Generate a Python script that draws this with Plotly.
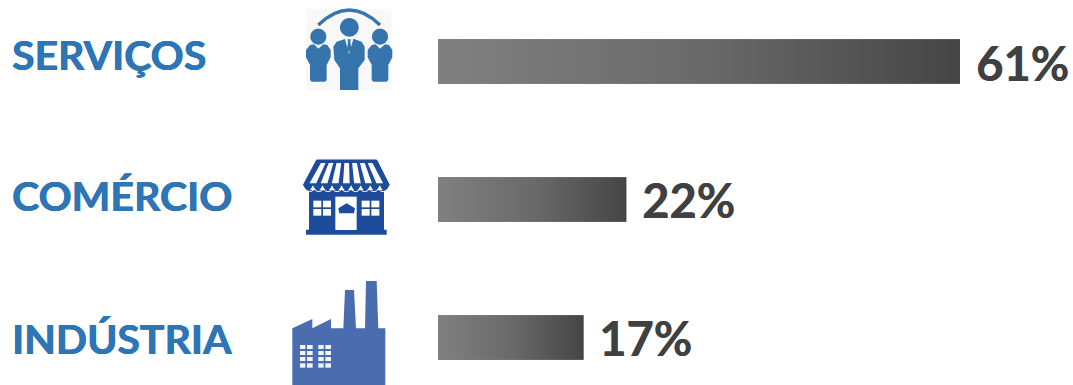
import math
import re
import plotly.graph_objects as go

categories = ["SERVIÇOS", "COMÉRCIO", "INDÚSTRIA"]
values = [61, 22, 17]

W, H = 1073, 385
PX_PER_UNIT = 522 / 61
X0 = 438
xrange_ = [-X0 / PX_PER_UNIT, (W - X0) / PX_PER_UNIT]
yrange_ = [(H - 61.5) / 138, -61.5 / 138]
BAR_H = 44.5 / 138

BLUE = "#2E75B6"
DARK = "#404040"
PEOPLE = "#3674AE"
STORE = "#1D4C9B"
FACTORY = "#4A6DB0"

fig = go.Figure()

fig.add_trace(go.Bar(x=values, y=list(range(3)), orientation="h", width=BAR_H,
                     marker=dict(color="#636363", line_width=0),
                     hoverinfo="skip", showlegend=False))

for i, v in enumerate(values):
    fig.add_trace(go.Scatter(
        x=[0, v, v, 0, 0],
        y=[i - BAR_H / 2, i - BAR_H / 2, i + BAR_H / 2, i + BAR_H / 2, i - BAR_H / 2],
        mode="lines", line=dict(width=0), fill="toself",
        fillgradient=dict(type="horizontal",
                          colorscale=[[0, "#808080"], [0.5, "#6a6a6a"], [1, "#454545"]]),
        hoverinfo="skip", showlegend=False))

annotations = []
label_y = [54.5, 195.5, 338.5]
value_shift = [-1, 0, 0]
for i, (c, v) in enumerate(zip(categories, values)):
    annotations.append(dict(xref="paper", yref="paper", x=9.5 / W, y=1 - label_y[i] / H,
                            xanchor="left", yanchor="middle", text=f"<b>{c}</b>", showarrow=False,
                            font=dict(family="Lato", size=41, color=BLUE,
                                      shadow=f"0.5px 0 0 {BLUE}, -0.3px 0 0 {BLUE}")))
    annotations.append(dict(xref="x", yref="y", x=v, y=i, xanchor="left", yanchor="middle",
                            xshift=14, yshift=value_shift[i], text=f"<b>{v}%</b>", showarrow=False,
                            font=dict(family="Lato", size=47, color=DARK,
                                      shadow=f"0.5px 0 0 {DARK}")))

shapes = []


def to_paper(path, ox, oy, s=1 / 3):
    def rep(m):
        x = ox + float(m.group(1)) * s
        y = oy + float(m.group(2)) * s
        return f"{x / W:.5f},{1 - y / H:.5f}"
    return re.sub(r"(-?[\d.]+),(-?[\d.]+)", rep, path)


def add(path, ox, oy, fill=None, line=None, lw=0):
    shapes.append(dict(type="path", xref="paper", yref="paper", path=to_paper(path, ox, oy),
                       fillcolor=fill or "rgba(0,0,0,0)",
                       line=dict(color=line or "rgba(0,0,0,0)", width=lw), layer="above"))


def poly(pts):
    return "M" + " L".join(f"{x},{y}" for x, y in pts) + " Z"


def circle(cx, cy, r):
    return poly([(round(cx + r * math.cos(a / 16 * math.pi), 2),
                  round(cy + r * math.sin(a / 16 * math.pi), 2)) for a in range(32)])


# Icon 1: people
ox, oy = 290, 0
add(poly([(48, 27), (305, 27), (305, 270), (48, 270)]), ox, oy, fill="#F8F8F8")
add("M85,75 Q178,-15 270,75", ox, oy, line=PEOPLE, lw=3.5)
add(circle(178, 82, 28), ox, oy, fill=PEOPLE)
add(poly([(150, 270), (150, 205), (133, 180), (130, 140), (140, 125), (165, 117), (192, 117),
          (215, 125), (224, 140), (224, 180), (205, 205), (205, 270)]), ox, oy, fill=PEOPLE)
add(poly([(165, 117), (177, 162), (190, 117)]), ox, oy, fill="#FFFFFF")
add(poly([(172, 118), (183, 118), (181, 125), (184, 148), (177, 157), (171, 148), (174, 125)]),
    ox, oy, fill=PEOPLE)
side = [(60, 135), (72, 133), (85, 146), (100, 133), (112, 135), (122, 150), (122, 172), (110, 195),
        (110, 240), (105, 245), (65, 245), (60, 240), (60, 195), (48, 172), (48, 150)]
for dx in (0, 185):
    add(circle(85 + dx, 110, 24), ox, oy, fill=PEOPLE)
    add(poly([(x + dx, y) for x, y in side]), ox, oy, fill=PEOPLE)

# Icon 2: store
ox, oy = 290, 150
add(poly([(57, 120), (282, 120), (282, 240), (57, 240)]), ox, oy, fill=STORE)
add("M48,247 L290,247", ox, oy, line=STORE, lw=5)
add(poly([(80, 30), (260, 30), (298, 105), (40, 105)]), ox, oy, fill=STORE, line=STORE, lw=1)
scallop = "M40,105"
n = 9
for k in range(n):
    x1 = 40 + 258 * (k + 1) / n
    scallop += f" Q{x1 - 129 / n:.1f},140 {x1:.1f},105"
add(scallop + " Z", ox, oy, fill=STORE)
for k in range(7):
    t0, t1 = (k + 0.2) / 7, (k + 0.8) / 7
    add(poly([(round(88 + 164 * t0, 1), 39), (round(88 + 164 * t1, 1), 39),
              (round(52 + 234 * t1, 1), 100), (round(52 + 234 * t0, 1), 100)]), ox, oy, fill="#FFFFFF")
wave = "M45,118"
for k in range(n):
    x1 = 45 + 248 * (k + 1) / n
    wave += f" Q{x1 - 124 / n:.1f},132 {x1:.1f},118"
add(wave, ox, oy, line="#FFFFFF", lw=1)
add(poly([(136, 140), (200, 140), (200, 240), (136, 240)]), ox, oy, fill="#FFFFFF")
add(poly([(145, 175), (170, 160), (195, 175), (192, 190), (148, 190)]), ox, oy, fill=STORE)
for wx in (70, 215):
    for a, b in ((0, 24), (29, 53)):
        for c, d in ((152, 172), (177, 197)):
            add(poly([(wx + a, c), (wx + b, c), (wx + b, d), (wx + a, d)]), ox, oy, fill="#FFFFFF")

# Icon 3: factory
ox, oy = 280, 275
add(poly([(37, 160), (97, 132), (97, 160), (153, 132), (153, 160), (190, 160), (195, 45), (222, 45),
          (228, 160), (255, 160), (258, 18), (290, 18), (295, 160), (316, 160), (316, 330), (37, 330)]),
    ox, oy, fill=FACTORY)
for cx in (60, 115):
    for a, b in ((0, 16), (21, 38)):
        for c, d in ((210, 222), (228, 240), (246, 258), (265, 278)):
            add(poly([(cx + a, c), (cx + b, c), (cx + b, d), (cx + a, d)]), ox, oy, fill="#F2F4FA")

fig.update_layout(
    width=W, height=H, margin=dict(l=0, r=0, t=0, b=0),
    paper_bgcolor="white", plot_bgcolor="white", showlegend=False,
    xaxis=dict(range=xrange_, visible=False, fixedrange=True),
    yaxis=dict(range=yrange_, visible=False, fixedrange=True),
    annotations=annotations, shapes=shapes,
)

fig.write_html("out.html", config={"displayModeBar": False},
               post_script="document.body.style.margin='0';document.body.style.overflow='hidden';")
